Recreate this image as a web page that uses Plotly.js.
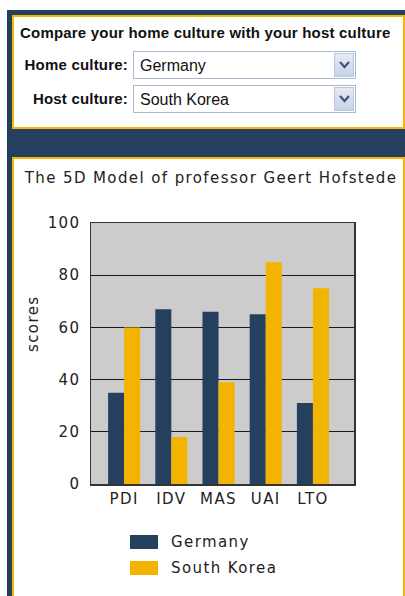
<!DOCTYPE html>
<html>
<head>
<meta charset="utf-8">
<script src="https://cdn.plot.ly/plotly-3.0.1.min.js"></script>
<style>
  html, body { margin: 0; padding: 0; background: #ffffff; width: 405px; height: 596px; overflow: hidden; }
  svg text { letter-spacing: 1.4px; }
  .frame { position: absolute; left: 7px; top: 10px; width: 398px; height: 600px; background: #24405e; }
  .box { position: absolute; left: 12px; width: 393px; box-sizing: border-box; border: 2px solid #f5b800; background: #ffffff; }
  .lbl { position: absolute; font-family: "Liberation Sans", Arial, sans-serif; font-weight: bold; font-size: 15px; letter-spacing: 0.2px; color: #111; white-space: nowrap; line-height: 17px; }
  .sel { position: absolute; left: 133px; width: 223px; height: 28px; box-sizing: border-box; border: 1px solid #a7b9d3; background: #fff; }
  .sel .txt { position: absolute; left: 6px; top: 4px; font-family: "Liberation Sans", Arial, sans-serif; font-size: 16px; color: #111; line-height: 19px; }
  .sel .btn { position: absolute; right: 1px; top: 1px; width: 20px; height: 24px; box-sizing: border-box; border: 1px solid #b9c6dc; background: linear-gradient(#e6eaf4, #c9d2e6); }
  .sel .btn svg { position: absolute; left: 4px; top: 7px; }
  #chart { position: absolute; left: 14px; top: 159px; width: 389px; height: 437px; }
</style>
</head>
<body>
<div class="frame"></div>
<div class="box" style="top:15px; height:114px;"></div>
<div class="lbl" style="left:20px; top:24px;">Compare your home culture with your host culture</div>
<div class="lbl" style="right:277px; top:56px;">Home culture:</div>
<div class="lbl" style="right:277px; top:90px;">Host culture:</div>
<div class="sel" style="top:51px;"><div class="txt" id="home"></div><div class="btn"><svg width="11" height="8"><path d="M1,1 L5.5,6 L10,1" stroke="#3f5680" stroke-width="2.2" fill="none"/></svg></div></div>
<div class="sel" style="top:85px;"><div class="txt" id="host"></div><div class="btn"><svg width="11" height="8"><path d="M1,1 L5.5,6 L10,1" stroke="#3f5680" stroke-width="2.2" fill="none"/></svg></div></div>
<div class="box" style="top:157px; height:460px;"></div>
<div id="chart"></div>
<script>
// ---- data ----
const categories = ['PDI', 'IDV', 'MAS', 'UAI', 'LTO'];
const germany = [35, 67, 66, 65, 31];
const southKorea = [60, 18, 39, 85, 75];
const seriesNames = ['Germany', 'South Korea'];
const yTicks = [0, 20, 40, 60, 80, 100];
const chartTitle = 'The 5D Model of professor Geert Hofstede';
const yTitle = 'scores';

// ---- styles ----
const navy = '#24405e';
const gold = '#f2b400';
const W = 389, H = 437;
const M = { l: 77, r: 49, t: 64, b: 112 };
const PW = W - M.l - M.r, PH = H - M.t - M.b;
const px = x => (x - M.l) / PW;
const py = y => 1 - (y - M.t) / PH;
const font = 'DejaVu Sans, Verdana, sans-serif';

document.getElementById('home').textContent = seriesNames[0];
document.getElementById('host').textContent = seriesNames[1];

const traces = [
  { type: 'bar', x: categories, y: germany, name: seriesNames[0], marker: { color: navy } },
  { type: 'bar', x: categories, y: southKorea, name: seriesNames[1], marker: { color: gold } }
];

const colors = [navy, gold];
const shapes = [];
const annotations = [];
seriesNames.forEach((n, i) => {
  const top = 376 + i * 26;
  shapes.push({ type: 'rect', xref: 'paper', yref: 'paper', x0: px(116), x1: px(144), y0: py(top), y1: py(top + 14), fillcolor: colors[i], line: { width: 0 } });
  annotations.push({ xref: 'paper', yref: 'paper', x: px(155), y: py(top + 7), text: n, showarrow: false, xanchor: 'left', yanchor: 'middle', font: { family: font, size: 15, color: '#222' } });
});
annotations.push({ xref: 'paper', yref: 'paper', x: px(19), y: py(165), text: yTitle, textangle: -90, showarrow: false, xanchor: 'center', yanchor: 'middle', font: { family: font, size: 15, color: '#222' } });

const layout = {
  width: W, height: H,
  margin: M,
  paper_bgcolor: '#ffffff',
  plot_bgcolor: '#cccccc',
  showlegend: false,
  barmode: 'group',
  bargap: 0.32,
  bargroupgap: 0,
  title: { text: chartTitle, xref: 'container', yref: 'container', x: 197 / W, y: 1 - 19 / H, xanchor: 'center', yanchor: 'middle', font: { family: font, size: 15, color: '#222' } },
  xaxis: {
    range: [-0.702, -0.702 + PW / 47.2],
    showline: true, mirror: true, linecolor: '#333', linewidth: 1.5,
    showgrid: false, ticks: '', tickfont: { family: font, size: 15, color: '#222' }, fixedrange: true
  },
  yaxis: {
    range: [0, 100], tickvals: yTicks, ticktext: yTicks.map(String),
    showline: true, mirror: true, linecolor: '#333', linewidth: 1.5,
    showgrid: true, gridcolor: '#1a1a1a', gridwidth: 1, zeroline: false,
    ticks: '', ticklabelstandoff: 6, tickfont: { family: font, size: 15, color: '#222' }, fixedrange: true
  },
  shapes: shapes,
  annotations: annotations
};

Plotly.newPlot('chart', traces, layout, { displayModeBar: false, staticPlot: true });
</script>
</body>
</html>
